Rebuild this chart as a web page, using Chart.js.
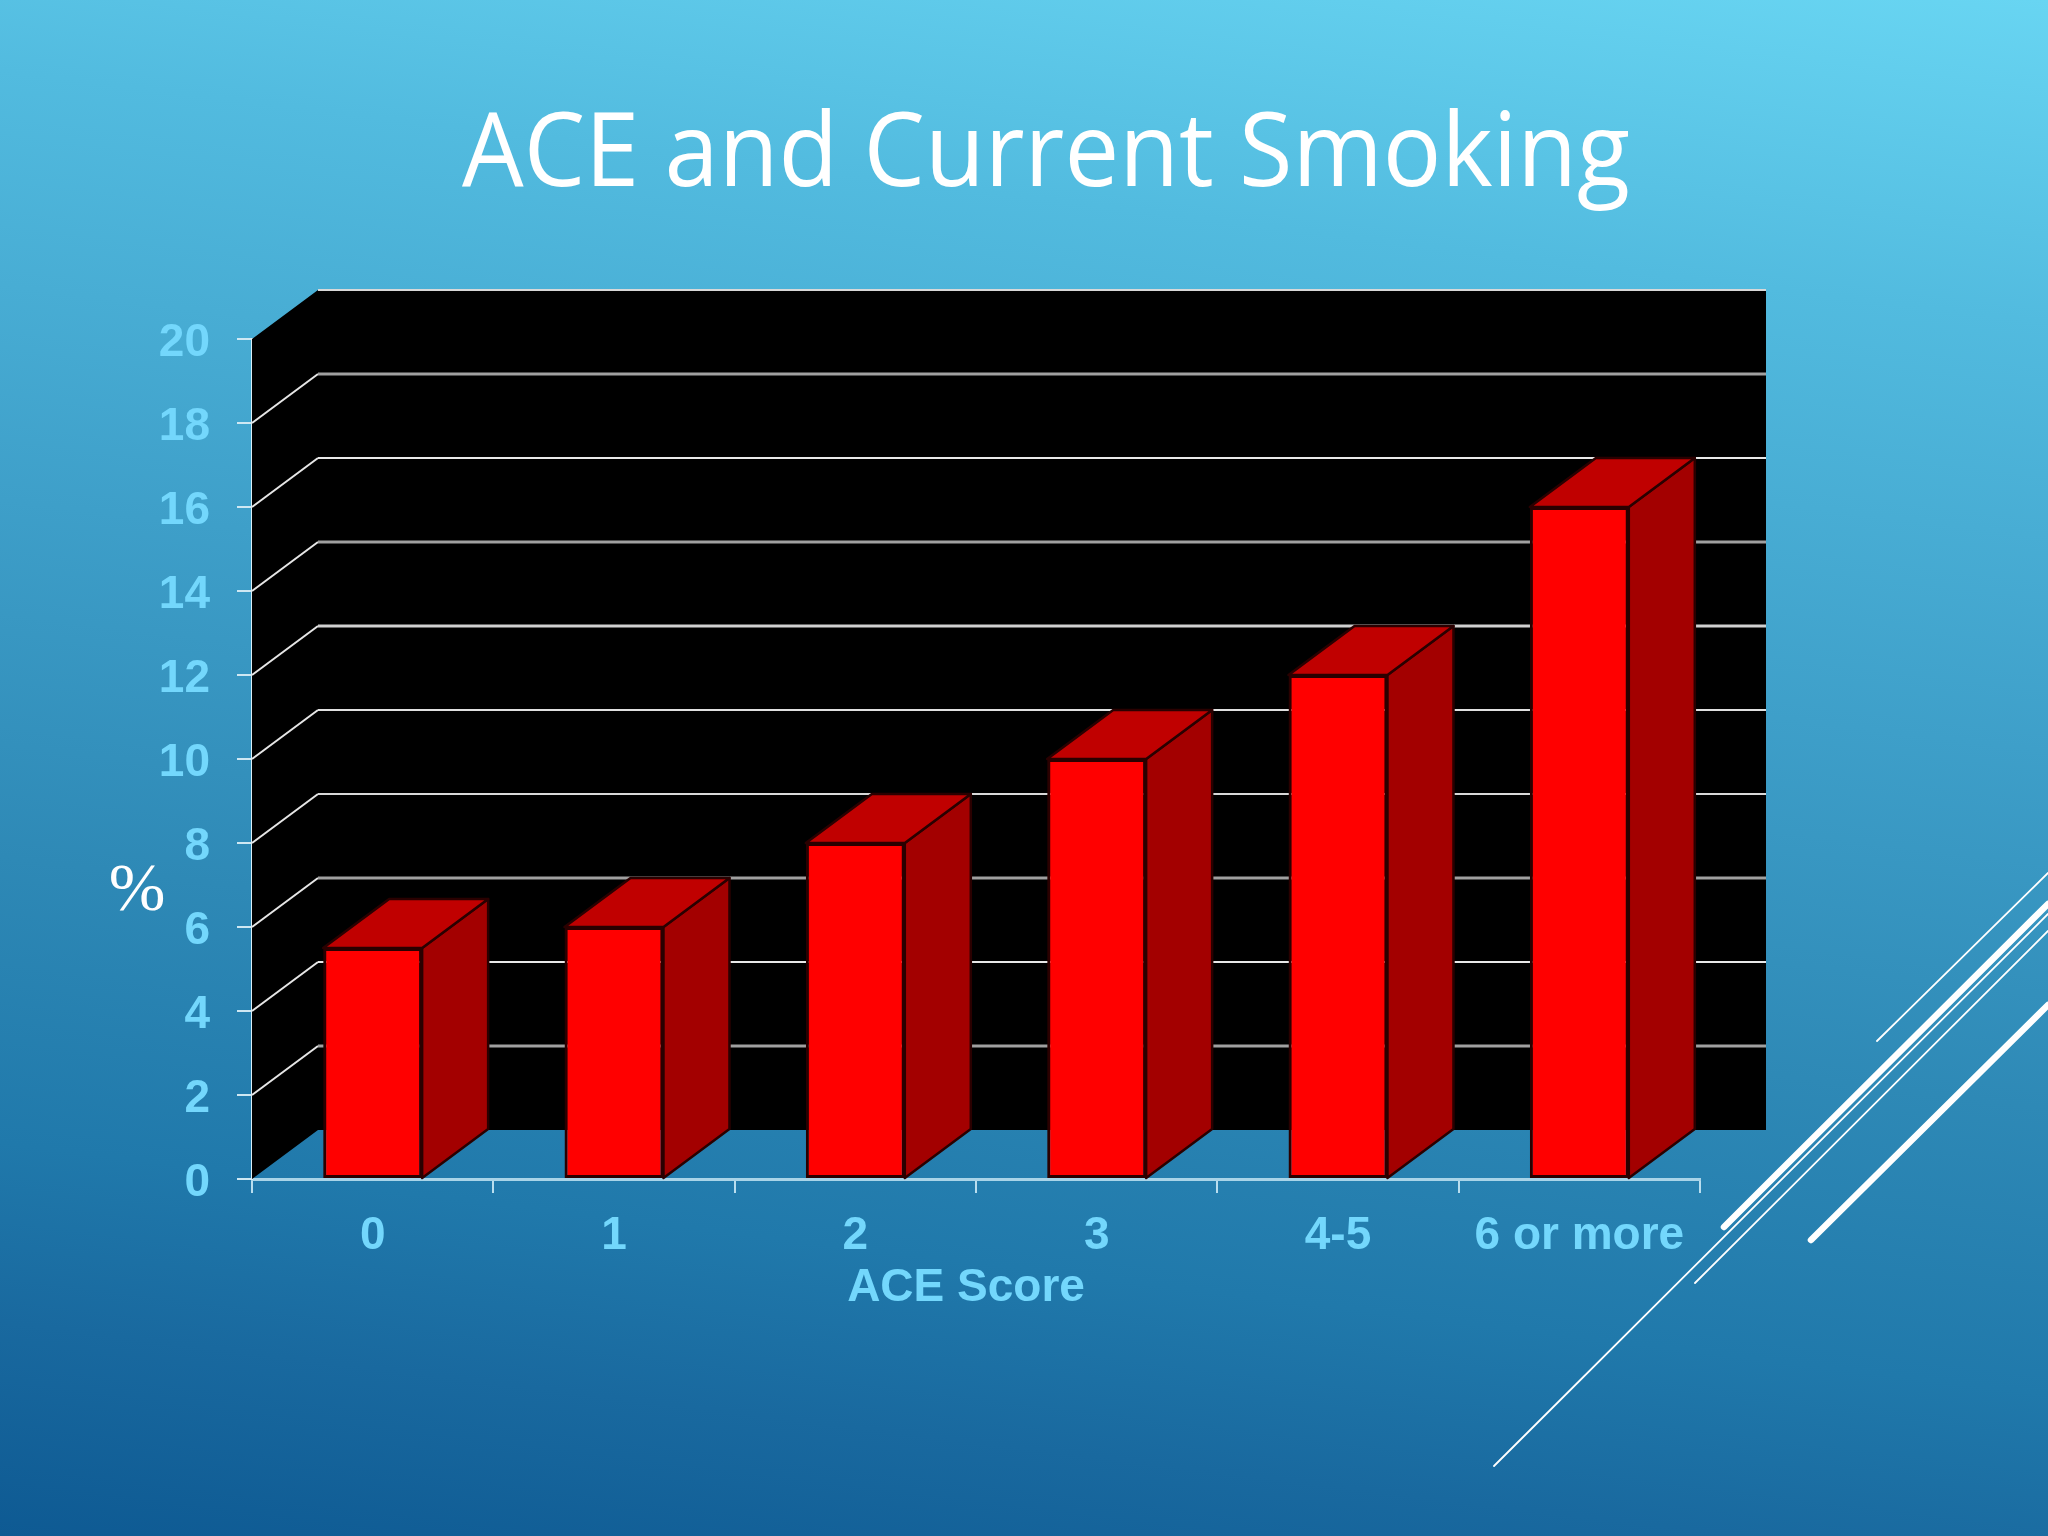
<!DOCTYPE html>
<html>
<head>
<meta charset="utf-8">
<title>ACE and Current Smoking</title>
<script src="https://cdn.jsdelivr.net/npm/chart.js@4"></script>
<style>
html, body { margin: 0; padding: 0; }
body {
    width: 2048px; height: 1536px; overflow: hidden; position: relative;
    background: linear-gradient(187deg, #68d5f2 0%, #52bbdf 18%, #3e9fc9 42%, #2e89b6 62%, #2079ab 78%, #19699f 88%, #0e5a93 100%);
}
canvas { position: absolute; left: 0; top: 0; }
svg { position: absolute; left: 0; top: 0; }
</style>
</head>
<body>
<svg width="2048" height="1536" stroke="#fff" stroke-linecap="round">
    <line x1="1877" y1="1041" x2="2048" y2="873" stroke-width="1.8"/>
    <line x1="1724" y1="1227" x2="2048" y2="904" stroke-width="6.5"/>
    <line x1="1494" y1="1466" x2="2048" y2="914" stroke-width="1.8"/>
    <line x1="1695" y1="1283" x2="2048" y2="931" stroke-width="1.8"/>
    <line x1="1811" y1="1240" x2="2048" y2="1005" stroke-width="6.5"/>
</svg>
<canvas id="aceChart" width="2048" height="1536"></canvas>
<script>
// Data
var chartTitle = "ACE and Current Smoking";
var xAxisTitle = "ACE Score";
var yAxisTitle = "%";
var aceScores = ["0", "1", "2", "3", "4-5", "6 or more"];
var smokingPercent = [5.5, 6, 8, 10, 12, 16];
var yTicks = [0, 2, 4, 6, 8, 10, 12, 14, 16, 18, 20];

var labelColor = "#73d7fc";
var depthX = 66;
var depthY = 49;
// the back wall lines alternate in tone on the slide
var wallLineColors = ["#b5b5b5", "#a0a0a0", "#e8e8e8", "#a0a0a0", "#d8d8d8", "#e0e0e0", "#d0d0d0", "#a0a0a0", "#e8e8e8", "#a0a0a0", "#d8d8d8"];
var wallLineWidths = [2, 3, 2, 3, 2, 2, 3, 3, 2, 3, 2];

// Black wall, grid lines and the side and top of each bar
var boxPlugin = {
    id: "box3d",
    beforeDatasetsDraw: function (chart) {
        var ctx = chart.ctx;
        var area = chart.chartArea;
        var y = chart.scales.y;
        var x0 = area.left, x1 = area.right, top = area.top, bot = area.bottom;

        ctx.save();
        ctx.fillStyle = "#000";
        ctx.beginPath();
        ctx.moveTo(x0, top);
        ctx.lineTo(x0 + depthX, top - depthY);
        ctx.lineTo(x1 + depthX, top - depthY);
        ctx.lineTo(x1 + depthX, bot - depthY);
        ctx.lineTo(x0 + depthX, bot - depthY);
        ctx.lineTo(x0, bot);
        ctx.closePath();
        ctx.fill();

        yTicks.forEach(function (v, i) {
            if (v === 0) return;
            var py = y.getPixelForValue(v);
            if (v < yTicks[yTicks.length - 1]) {
                ctx.strokeStyle = "#e6e6e6";
                ctx.lineWidth = 2;
                ctx.beginPath();
                ctx.moveTo(x0, py);
                ctx.lineTo(x0 + depthX, py - depthY);
                ctx.stroke();
            }
            ctx.strokeStyle = wallLineColors[i];
            ctx.lineWidth = wallLineWidths[i];
            ctx.beginPath();
            ctx.moveTo(x0 + depthX, py - depthY);
            ctx.lineTo(x1 + depthX, py - depthY);
            ctx.stroke();
        });

        chart.getDatasetMeta(0).data.forEach(function (bar) {
            var left = bar.x - bar.width / 2, right = bar.x + bar.width / 2;
            ctx.lineWidth = 2.5;
            ctx.strokeStyle = "#2a0000";
            ctx.lineJoin = "round";

            ctx.fillStyle = "#a30000";
            ctx.beginPath();
            ctx.moveTo(right, bar.y);
            ctx.lineTo(right + depthX, bar.y - depthY);
            ctx.lineTo(right + depthX, bar.base - depthY);
            ctx.lineTo(right, bar.base);
            ctx.closePath();
            ctx.fill();
            ctx.stroke();

            ctx.fillStyle = "#c00000";
            ctx.beginPath();
            ctx.moveTo(left, bar.y);
            ctx.lineTo(left + depthX, bar.y - depthY);
            ctx.lineTo(right + depthX, bar.y - depthY);
            ctx.lineTo(right, bar.y);
            ctx.closePath();
            ctx.fill();
            ctx.stroke();
        });
        ctx.restore();
    },
    afterDraw: function (chart) {
        var ctx = chart.ctx;
        ctx.save();
        ctx.textAlign = "center";
        ctx.textBaseline = "alphabetic";

        ctx.fillStyle = "#fff";
        ctx.font = "102px 'Open Sans'";
        ctx.fillText(chartTitle, 1046, 186, 1168);

        ctx.fillStyle = labelColor;
        ctx.font = "bold 46px 'Liberation Sans'";
        ctx.fillText(xAxisTitle, 966, 1301);

        ctx.fillStyle = "#fff";
        ctx.font = "68px 'Liberation Serif'";
        ctx.fillText(yAxisTitle, 137, 910);
        ctx.restore();
    }
};

var aceChart = new Chart(document.getElementById("aceChart").getContext("2d"), {
    type: "bar",
    plugins: [boxPlugin],
    data: {
        labels: aceScores,
        datasets: [{
            data: smokingPercent,
            backgroundColor: "#ff0000",
            borderColor: "#2a0000",
            borderWidth: 3,
            borderSkipped: false,
            barPercentage: 0.41,
            categoryPercentage: 1
        }]
    },
    options: {
        responsive: false,
        animation: false,
        layout: { padding: { left: 0, right: 348, top: 339, bottom: 0 } },
        plugins: { legend: { display: false }, title: { display: false }, tooltip: { enabled: false } },
        scales: {
            x: {
                afterFit: function (scale) { scale.height = 357; },
                border: { color: "#a9d4e8", width: 3 },
                grid: { offset: true, drawOnChartArea: false, color: "#b9deef", lineWidth: 2, tickLength: 14 },
                ticks: { color: labelColor, font: { family: "'Liberation Sans'", size: 46, weight: "bold" }, padding: 16, maxRotation: 0, autoSkip: false }
            },
            y: {
                min: 0,
                max: 20,
                afterFit: function (scale) { scale.width = 252; },
                afterBuildTicks: function (scale) { scale.ticks = yTicks.map(function (v) { return { value: v }; }); },
                border: { color: "#dbeef6", width: 2 },
                grid: { drawOnChartArea: false, color: "#cfe8f3", lineWidth: 2, tickLength: 15 },
                ticks: { color: labelColor, font: { family: "'Liberation Sans'", size: 46, weight: "bold" }, padding: 27, labelOffset: 4 }
            }
        }
    }
});
</script>
</body>
</html>
